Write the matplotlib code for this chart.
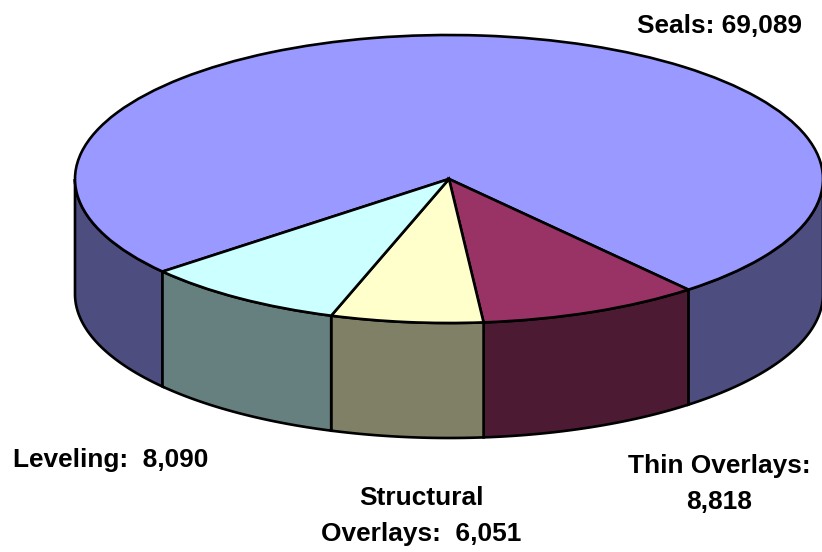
import numpy as np
import matplotlib
matplotlib.use("Agg")
import matplotlib.pyplot as plt

# data
names = ['Seals', 'Thin Overlays', 'Structural Overlays', 'Leveling']
values = [69089, 8818, 6051, 8090]
top_colors = ['#9999FF', '#993366', '#FFFFCC', '#CCFFFF']
side_colors = ['#4D4D80', '#4D1A33', '#808066', '#668080']
label_texts = ['Seals: 69,089', 'Thin Overlays:\n8,818', 'Structural\nOverlays:  6,051', 'Leveling:  8,090']
label_pos = [(719, 26), (719, 484), (421, 516), (111, 460)]

W, H = 822, 552
cx, cy, rx, ry = 449, 179, 374, 144   # ellipse of the top face, in pixels
depth = 115 / ry                      # wall height in pie units
start = -140

plt.rcParams['font.family'] = ['Liberation Sans', 'DejaVu Sans']
fig = plt.figure(figsize=(W / 100, H / 100), dpi=100)
ax = fig.add_axes([0, 0, 1, 1])

# walls first, only the front half of the ellipse shows
edges = start - np.cumsum([0] + values) / sum(values) * 360
for i in range(len(values)):
    for shift in (0, 360):
        lo = max(edges[i + 1] + shift, -180)
        hi = min(edges[i] + shift, 0)
        if lo >= hi:
            continue
        t = np.radians(np.linspace(lo, hi, 120))
        x = np.cos(t)
        y = np.sin(t)
        ax.fill(np.r_[x, x[::-1]], np.r_[y, y[::-1] - depth],
                facecolor=side_colors[i], edgecolor='black', lw=1.9, zorder=1)

wedges, _ = ax.pie(values, colors=top_colors, startangle=start, counterclock=False,
                   wedgeprops={'edgecolor': 'black', 'linewidth': 1.9})
for w in wedges:
    w.set_zorder(2)

# stretch the circle into the ellipse
ax.set_aspect('auto')
ax.set_xlim(-cx / rx, (W - cx) / rx)
ax.set_ylim(-(H - cy) / ry, cy / ry)
ax.axis('off')

for txt, (px, py) in zip(label_texts, label_pos):
    fig.text(px / W, 1 - py / H, txt, ha='center', va='center', fontsize=18.9,
             fontweight='bold', linespacing=1.62)

fig.savefig('out.png', dpi=100)
